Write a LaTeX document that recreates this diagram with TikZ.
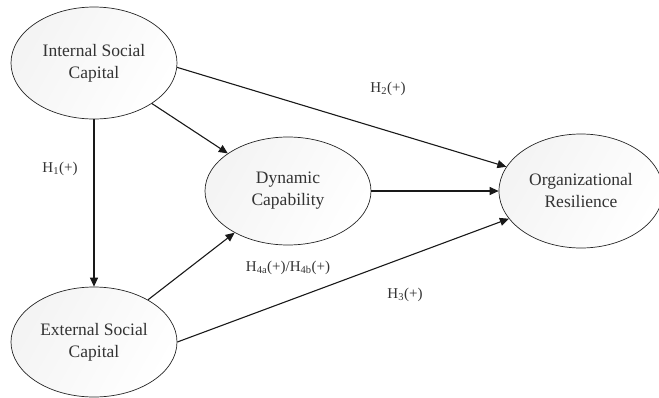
\documentclass[tikz,border=0pt]{standalone}
\usepackage{fontspec}
\setmainfont{Liberation Serif}
\usetikzlibrary{shapes.geometric,arrows.meta}
\tikzset{
  construct/.style={ellipse, draw=black!85, line width=0.7pt, inner sep=0pt,
    minimum width=166pt, minimum height=112pt, align=center,
    left color=gray!9, right color=white, shading angle=60,
    font=\fontsize{17.5}{22}\selectfont, text=black!80},
  path/.style={draw=black!90, line width=1.1pt, -{Triangle[length=9pt,width=8pt]}},
  hyp/.style={font=\fontsize{15}{18}\selectfont, text=black!80, inner sep=0pt}
}
\begin{document}
\begin{tikzpicture}[x=1pt,y=-1pt]
\useasboundingbox (0,0) rectangle (659,397);
\begin{scope}
\clip (0,0) rectangle (659,397);
\node[construct] (isc) at (94,63) {Internal Social\\Capital};
\node[construct, minimum height=108pt] (dc) at (288,191) {Dynamic\\Capability};
\node[construct, minimum width=164pt, minimum height=114pt] (org) at (581,191) {Organizational\\Resilience};
\node[construct, minimum height=110pt] (esc) at (94,342) {External Social\\Capital};
\end{scope}
\draw[path] (isc.-90) -- (esc.90);
\draw[path] (isc.-3) -- (org.162);
\draw[path] (isc.-35) -- (dc.148);
\draw[path] (esc.38) -- (dc.218);
\draw[path] (dc.0) -- (org.180);
\draw[path] (esc.0) -- (org.201);
\node[hyp] (h1) at (60,169) {H\textsubscript{1}(+)};
\node[hyp] (h2) at (388,89) {H\textsubscript{2}(+)};
\node[hyp] (h4) at (288,268) {H\textsubscript{4a}(+)/H\textsubscript{4b}(+)};
\node[hyp] (h3) at (405,295) {H\textsubscript{3}(+)};
\end{tikzpicture}
\end{document}
